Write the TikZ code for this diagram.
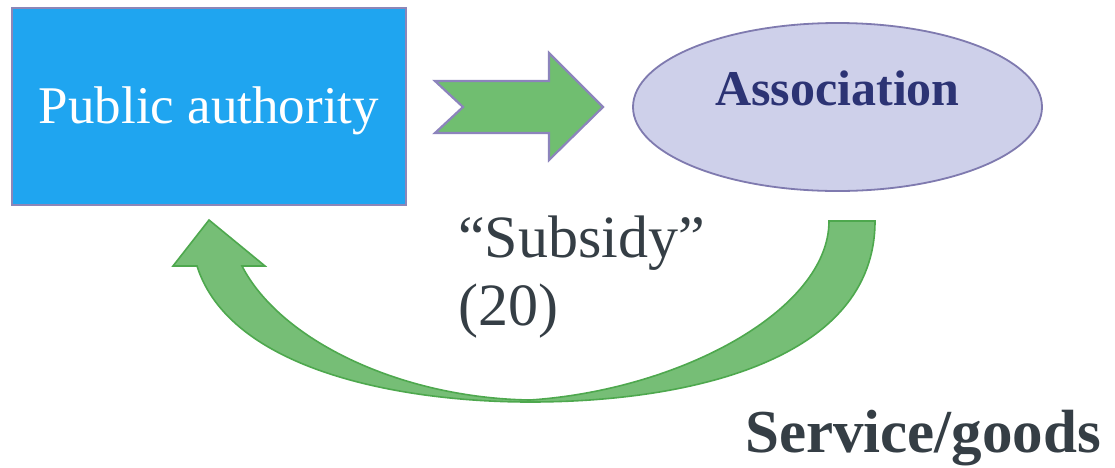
\documentclass[tikz,border=0pt]{standalone}
\usepackage{fontspec}
\setmainfont{Liberation Serif}
\usetikzlibrary{shapes.geometric}
\definecolor{pablue}{RGB}{31,165,240}
\definecolor{boxline}{RGB}{140,134,184}
\definecolor{ellfill}{RGB}{206,208,234}
\definecolor{ellline}{RGB}{127,122,175}
\definecolor{navytext}{RGB}{44,51,116}
\definecolor{slatetext}{RGB}{53,62,69}
\definecolor{arrowfill}{RGB}{112,190,112}
\definecolor{arrowline}{RGB}{140,132,188}
\definecolor{curvefill}{RGB}{118,190,118}
\definecolor{curveline}{RGB}{78,168,78}
\tikzset{
  pabox/.style={draw=boxline, line width=2pt, fill=pablue, rectangle,
    minimum width=394pt, minimum height=197pt, inner sep=0pt,
    text=white, font=\fontsize{53}{60}\selectfont, text height=33pt, text depth=0pt},
  assocell/.style={draw=ellline, line width=1.8pt, fill=ellfill, ellipse,
    minimum width=409pt, minimum height=168pt, inner sep=0pt,
    text=navytext, font=\fontsize{50}{58}\selectfont\bfseries, text height=30pt, text depth=34pt},
  plain/.style={inner sep=0pt, text=slatetext},
  blockarrow/.style={fill=arrowfill, draw=arrowline, line width=2.2pt, line join=miter},
  curvearrow/.style={fill=curvefill, draw=curveline, line width=1.6pt, line join=miter}
}
\begin{document}
\begin{tikzpicture}[x=1pt,y=-1pt]
\useasboundingbox (0,0) rectangle (1115,467);
\fill[white] (0,0) rectangle (1115,467);

\node[pabox] (pa) at (209,106.5) {Public authority};
\node[assocell] (assoc) at (837.5,107) {Association};

% straight block arrow from pa to assoc
\coordinate (sa) at (435,81);
\draw[blockarrow] (sa) -- (549,81) -- (549,53) -- (603,107) -- (549,160) -- (549,133)
  -- (435,133) -- (463,107) -- cycle;

% curved return arrow from assoc to pa
\coordinate (cstart) at (829,221);
\draw[curvearrow] (cstart) -- (875,221)
  .. controls (875,360) and (690,402) .. (530,402)
  .. controls (400,402) and (230,370) .. (197,266)
  -- (173,266) -- (209,220) -- (265,266) -- (242,266)
  .. controls (280,340) and (400,398) .. (530,400)
  .. controls (680,390) and (829,310) .. (cstart) -- cycle;

\node[plain, anchor=base west, align=left, font=\fontsize{60}{68}\selectfont] (subsidy)
  at (458,325) {“Subsidy”\\(20)};
\node[plain, anchor=base west, font=\fontsize{61}{70}\selectfont\bfseries] (service)
  at (745,452) {Service/goods};
\end{tikzpicture}
\end{document}
